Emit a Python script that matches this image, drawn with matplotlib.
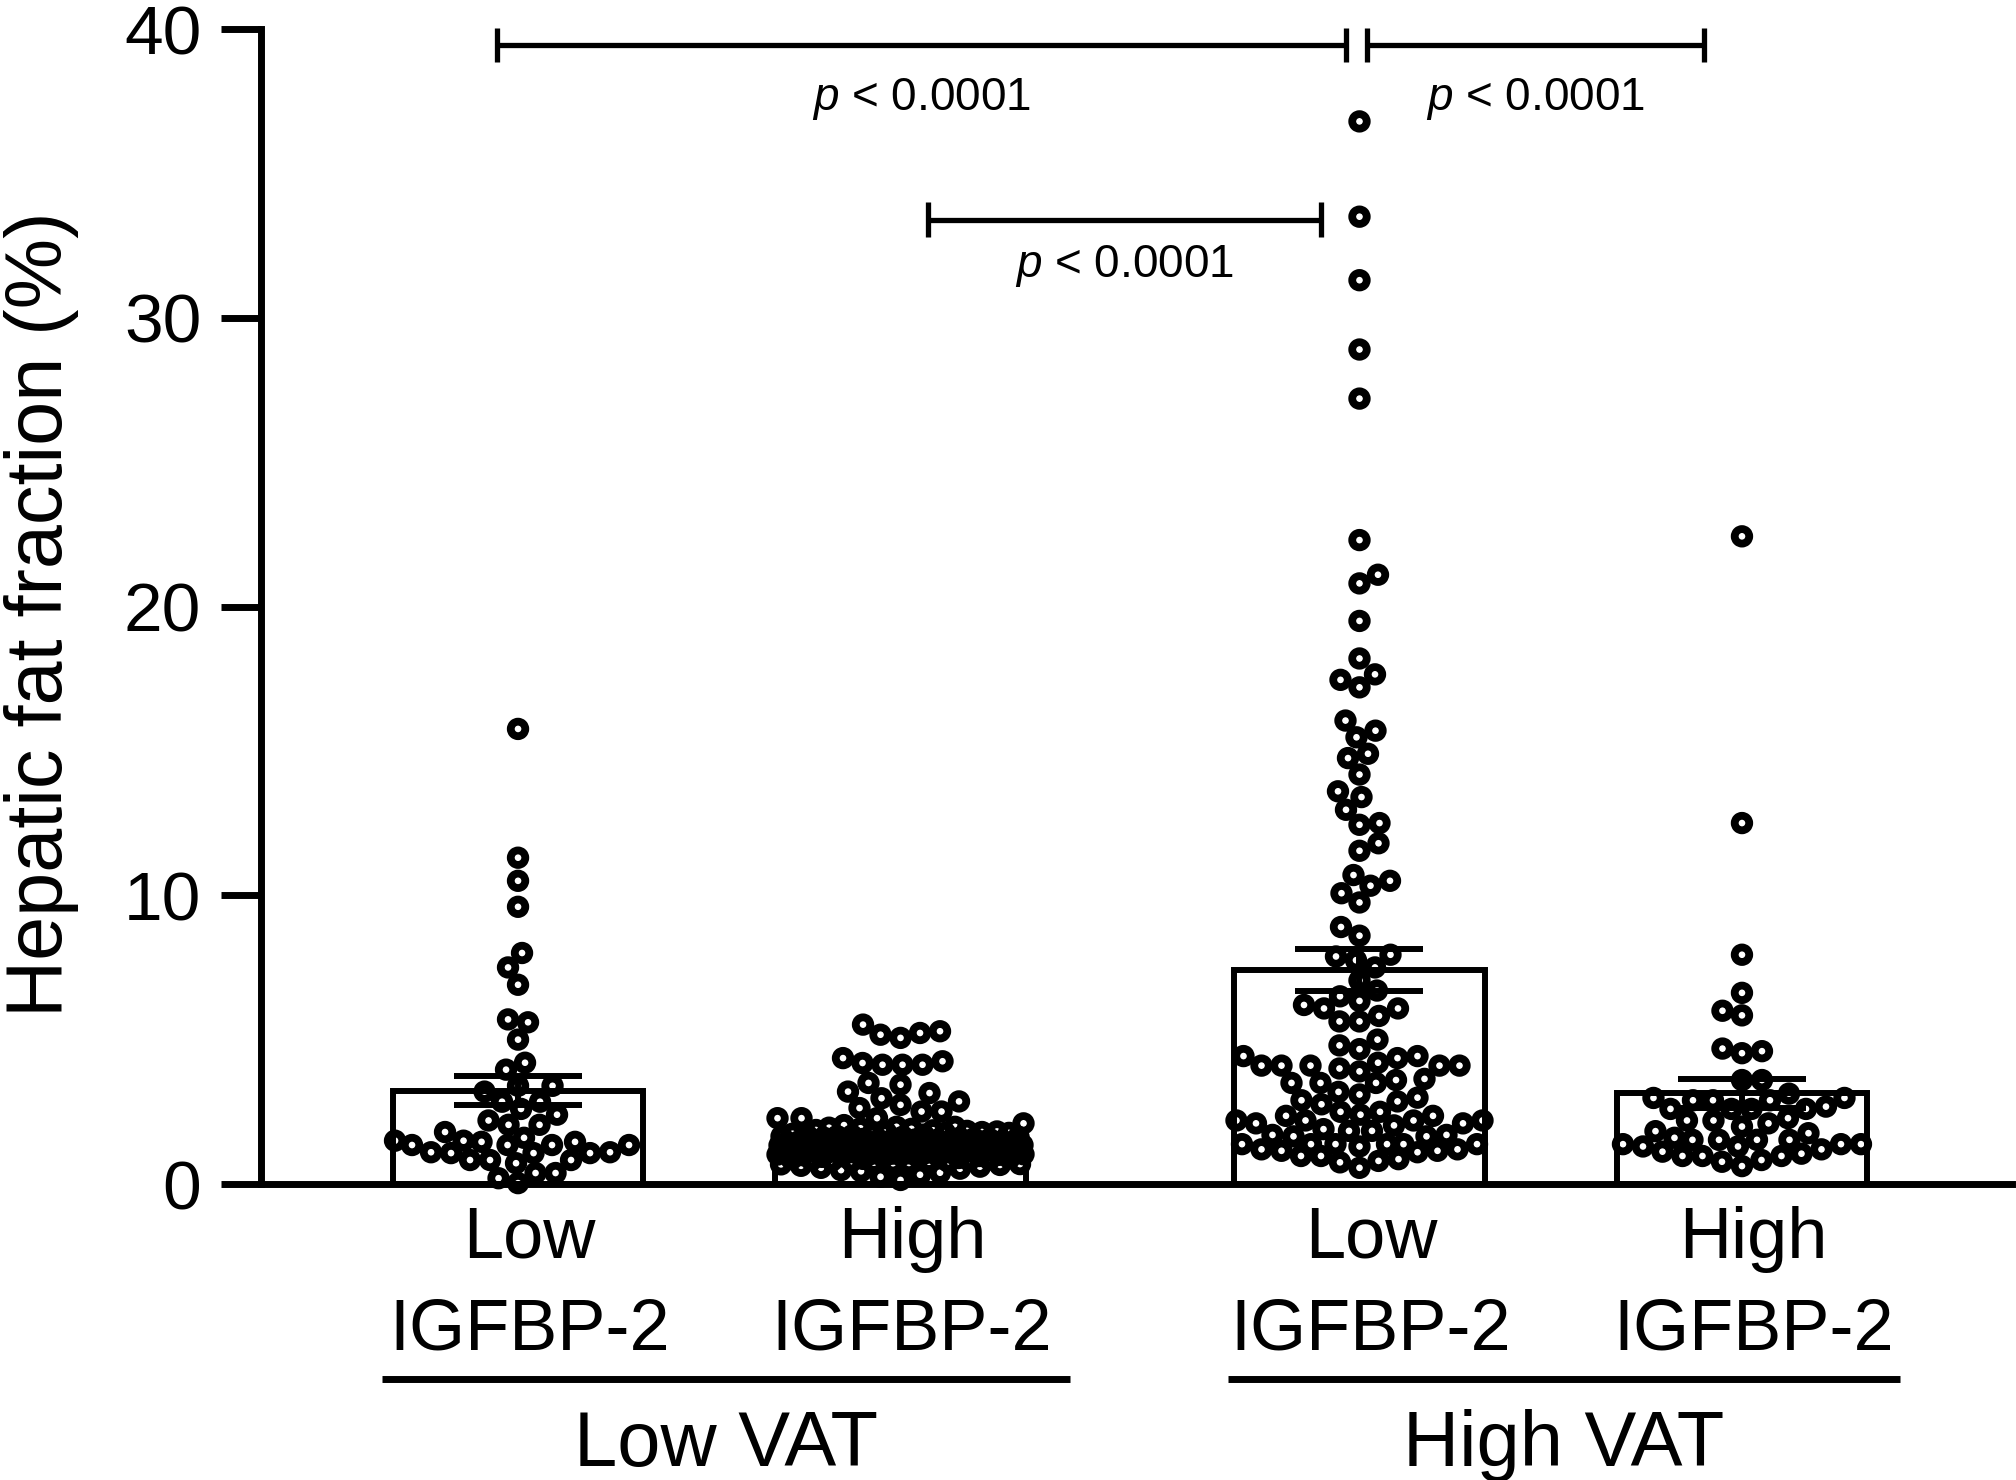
import numpy as np
import matplotlib
matplotlib.use("Agg")
import matplotlib.pyplot as plt
from matplotlib import transforms

plt.rcParams['font.family'] = ['Liberation Sans', 'DejaVu Sans']
plt.rcParams['mathtext.fontset'] = 'custom'
plt.rcParams['mathtext.it'] = 'Liberation Sans:italic'
plt.rcParams['mathtext.rm'] = 'Liberation Sans'

# ---------------- data ----------------
igfbp_level = ['Low', 'High', 'Low', 'High']
marker_name = ['IGFBP-2', 'IGFBP-2', 'IGFBP-2', 'IGFBP-2']
vat_groups = ['Low VAT', 'High VAT']
positions = [0, 1, 2.2, 3.2]

low_vat_low_igfbp = [15.76, 11.3, 10.5, 9.6, 8.0, 7.5, 6.9, 5.7, 5.6, 5.0, 4.2, 3.96,
                     3.4, 3.4, 3.2, 2.85, 2.85, 2.6, 2.4, 2.2, 2.05, 2.05, 1.8, 1.6,
                     1.5, 1.5, 1.46, 1.46, 1.35, 1.35, 1.35, 1.35, 1.1, 1.1, 1.07,
                     1.07, 1.07, 0.83, 0.83, 0.83, 0.72, 0.38, 0.38, 0.2, 0.03]

low_vat_high_igfbp = [5.52, 5.29, 5.23, 5.17, 5.06, 4.36, 4.25, 4.19, 4.13, 4.13, 4.13,
                      3.5, 3.44, 3.2, 3.15, 2.97, 2.86, 2.74, 2.63, 2.51, 2.51, 2.28,
                      2.28, 2.28, 2.1, 1.98, 1.98,
                      2.04, 1.95, 1.91, 1.87, 1.86, 1.82, 1.79, 1.77, 1.77, 1.73,
                      1.71, 1.68, 1.66, 1.64, 1.63, 1.6, 1.58, 1.56, 1.56, 1.53,
                      1.51, 1.49, 1.48, 1.46, 1.44, 1.42, 1.41, 1.39, 1.37, 1.36,
                      1.34, 1.33, 1.31, 1.29, 1.27, 1.26, 1.24, 1.22, 1.21, 1.19,
                      1.18, 1.16, 1.14, 1.12, 1.11, 1.09, 1.07, 1.06, 1.04, 1.02,
                      1.01, 0.99, 0.97, 0.95, 0.94, 0.92, 0.9, 0.87, 0.85, 0.83,
                      0.81, 0.79, 0.77, 0.74, 0.72, 0.69, 0.66, 0.63, 0.6, 0.56,
                      0.53, 0.48, 0.44, 0.39, 0.32, 0.25, 0.14,
                      1.93, 1.84, 1.8, 1.74, 1.69, 1.65, 1.61, 1.57, 1.54, 1.5,
                      1.47, 1.43, 1.4, 1.38, 1.35, 1.32, 1.28, 1.25, 1.23, 1.2,
                      1.17, 1.13, 1.1, 1.08, 1.05, 1.03, 1.0, 0.96, 0.93, 0.89,
                      0.86, 0.82, 0.78, 0.73, 0.68]

high_vat_low_igfbp = [36.8, 33.5, 31.3, 28.9, 27.2, 22.3, 21.1, 20.8, 19.5,
                      18.2, 17.65, 17.46, 17.2, 16.05, 15.7, 15.47, 14.9, 14.75,
                      14.18, 13.6, 13.4, 12.96, 12.5, 12.44, 11.8, 11.54, 10.7,
                      10.5, 10.33, 10.07, 9.75, 8.9, 8.6, 7.94, 7.88, 7.75, 7.5,
                      7.05, 6.7, 6.5, 6.34, 6.2, 6.08, 6.08, 5.82, 5.63, 5.63,
                      5.0, 4.8, 4.67, 4.43, 4.43, 4.36, 4.2, 4.1, 4.1, 4.1, 4.1,
                      4.1, 4.0, 3.9, 3.64, 3.6, 3.5, 3.5, 3.5, 3.19, 3.1, 2.99,
                      2.9, 2.86, 2.76, 2.5, 2.5, 2.4, 2.36, 2.36, 2.2, 2.2, 2.2,
                      2.2, 2.1, 2.1, 2.03, 1.9, 1.84, 1.84, 1.7, 1.7, 1.65, 1.65,
                      1.38, 1.38, 1.38, 1.38, 1.38, 1.38, 1.3, 1.2, 1.2, 1.15,
                      1.15, 1.1, 0.97, 0.97, 0.86, 0.8, 0.75, 0.56]

high_vat_high_igfbp = [22.43, 12.5, 7.94, 6.62, 6.0, 5.84, 4.69, 4.6, 4.53, 3.6, 3.6,
                       3.13, 2.98, 2.98, 2.9, 2.9, 2.9, 2.68, 2.6, 2.6, 2.6, 2.6,
                       2.28, 2.2, 2.2, 2.1, 1.99, 1.83, 1.76, 1.6, 1.53, 1.53, 1.53,
                       1.53, 1.38, 1.38, 1.38, 1.3, 1.3, 1.2, 1.12, 1.05, 0.97,
                       0.97, 0.97, 0.83, 0.77, 0.62]

groups = [low_vat_low_igfbp, low_vat_high_igfbp, high_vat_low_igfbp, high_vat_high_igfbp]
p_labels = ['p < 0.0001', 'p < 0.0001', 'p < 0.0001']

# ---------------- figure ----------------
W, H = 2016, 1480
fig = plt.figure(figsize=(W / 100, H / 100), dpi=100)
ax = fig.add_axes([261 / W, 1 - 1184 / H, (2012 - 261) / W, (1184 - 29) / H])
ax.set_xlim(-0.672, 3.906)
ax.set_ylim(0, 40)

bar_w = 0.656
means = [np.mean(g) for g in groups]
sems = [np.std(g, ddof=1) / np.sqrt(len(g)) for g in groups]

ax.bar(positions, means, width=bar_w, color='white', edgecolor='black',
       linewidth=4.3, zorder=1)


def swarm_x(values, center, d_px, limit_px):
    vals = np.asarray(values, float)
    pts = ax.transData.transform(np.column_stack([np.full(len(vals), center), vals]))
    ys = pts[:, 1]
    order = np.argsort(ys)
    k = np.arange(0.5, limit_px + 0.01, 0.5)
    cand_a = np.concatenate([[0.0], np.ravel(np.column_stack([k, -k]))])
    cand_b = np.concatenate([[0.0], np.ravel(np.column_stack([-k, k]))])
    offs = np.zeros(len(vals))
    px, py = [], []
    for n, i in enumerate(order):
        y = ys[i]
        cand = cand_a if n % 2 == 0 else cand_b
        if px:
            PX = np.array(px)
            PY = np.array(py)
            m = np.abs(PY - y) < d_px
            if m.any():
                dx = cand[:, None] - PX[m][None, :]
                dy = y - PY[m]
                dist = np.sqrt(dx ** 2 + dy[None, :] ** 2).min(axis=1)
                ok = dist >= d_px
                x = cand[np.argmax(ok)] if ok.any() else cand[np.argmax(dist)]
            else:
                x = 0.0
        else:
            x = 0.0
        offs[i] = x
        px.append(x)
        py.append(y)
    out = ax.transData.inverted().transform(np.column_stack([pts[:, 0] + offs, ys]))
    return out[:, 0]


half_bar_px = (ax.transData.transform((bar_w / 2, 0))[0] - ax.transData.transform((0, 0))[0])
for pos, g in zip(positions, groups):
    xs = swarm_x(g, pos, 20.0, half_bar_px - 2)
    ax.scatter(xs, g, s=110, facecolors='none', edgecolors='black',
               linewidths=5.6, zorder=3, clip_on=False)

ax.errorbar(positions, means, yerr=sems, fmt='none', ecolor='black',
            elinewidth=4.3, capsize=46, capthick=4.3, zorder=4)

# axes styling
for s in ['top', 'right']:
    ax.spines[s].set_visible(False)
for s in ['left', 'bottom']:
    ax.spines[s].set_linewidth(5)
ax.set_yticks([0, 10, 20, 30, 40])
ax.tick_params(axis='y', length=29, width=5, pad=14, labelsize=50, direction='out')
ax.tick_params(axis='x', length=0, labelbottom=False)

fig.text(0.0205, 0.585, 'Hepatic fat fraction (%)', rotation=90, ha='center',
         va='center', fontsize=57)

# x labels
tr = transforms.blended_transform_factory(ax.transData, fig.transFigure)
for pos, lvl, mk in zip(positions, igfbp_level, marker_name):
    ax.text(pos + 0.03, 1 - 1258 / H, lvl, transform=tr, ha='center', va='baseline',
            fontsize=52)
    ax.text(pos + 0.03, 1 - 1350 / H, mk, transform=tr, ha='center', va='baseline',
            fontsize=52)

group_spans = [(-0.356, 1.442), (1.855, 3.613)]
for (a, b), name in zip(group_spans, vat_groups):
    ax.plot([a, b], [1 - 1379 / H] * 2, transform=tr, color='black', lw=5,
            clip_on=False, solid_capstyle='butt')
    ax.text((a + b) / 2, 1 - 1466 / H, name, transform=tr, ha='center',
            va='baseline', fontsize=56)

# significance brackets
brackets = [(positions[0] - 0.054, positions[2] - 0.034, 39.45, 37.2),
            (positions[2] + 0.019, positions[3] - 0.10, 39.45, 37.2),
            (positions[1] + 0.072, positions[2] - 0.10, 33.4, 31.4)]
for (x0, x1, yb, yt), lab in zip(brackets, p_labels):
    ax.plot([x0, x1], [yb, yb], color='black', lw=3.8, clip_on=False,
            solid_capstyle='butt', zorder=5)
    for xx in (x0, x1):
        ax.plot([xx, xx], [yb - 0.6, yb + 0.6], color='black', lw=3.8,
                clip_on=False, solid_capstyle='butt', zorder=5)
    ax.text((x0 + x1) / 2, yt, r'$\it{p}$' + lab[1:], ha='center', va='baseline',
            fontsize=33, zorder=5)

fig.savefig('out.png', dpi=100, facecolor='white')
